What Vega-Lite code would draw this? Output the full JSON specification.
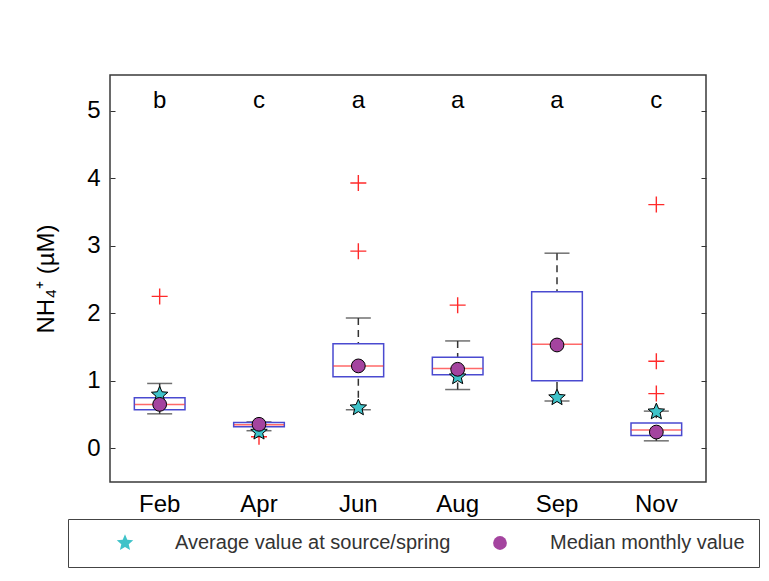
{
  "$schema": "https://vega.github.io/schema/vega-lite/v6.json",
  "width": 596,
  "height": 407,
  "autosize": "none",
  "padding": {"left": 110, "top": 75, "right": 63, "bottom": 99},
  "background": "white",
  "config": {
    "font": "Liberation Sans",
    "view": {"stroke": "#3a3a3a", "strokeWidth": 1.5},
    "axis": {"grid": false, "labelColor": "black", "titleColor": "black", "titleFontWeight": "normal"}
  },
  "datasets": {
    "boxes": [
      {"month": "Feb", "lo": 0.51, "q1": 0.57, "med": 0.65, "q3": 0.75, "hi": 0.96, "letter": "b"},
      {"month": "Apr", "lo": 0.26, "q1": 0.32, "med": 0.35, "q3": 0.38, "hi": 0.39, "letter": "c"},
      {"month": "Jun", "lo": 0.57, "q1": 1.06, "med": 1.22, "q3": 1.55, "hi": 1.93, "letter": "a"},
      {"month": "Aug", "lo": 0.87, "q1": 1.09, "med": 1.18, "q3": 1.35, "hi": 1.59, "letter": "a"},
      {"month": "Sep", "lo": 0.70, "q1": 1.00, "med": 1.54, "q3": 2.32, "hi": 2.89, "letter": "a"},
      {"month": "Nov", "lo": 0.11, "q1": 0.19, "med": 0.27, "q3": 0.375, "hi": 0.55, "letter": "c"}
    ],
    "outliers": [
      {"month": "Feb", "value": 2.25},
      {"month": "Apr", "value": 0.17},
      {"month": "Jun", "value": 3.93},
      {"month": "Jun", "value": 2.92},
      {"month": "Aug", "value": 2.12},
      {"month": "Nov", "value": 3.61},
      {"month": "Nov", "value": 1.29},
      {"month": "Nov", "value": 0.81}
    ],
    "points": [
      {"month": "Feb", "series": "Average value at source/spring", "value": 0.79},
      {"month": "Apr", "series": "Average value at source/spring", "value": 0.24},
      {"month": "Jun", "series": "Average value at source/spring", "value": 0.60},
      {"month": "Aug", "series": "Average value at source/spring", "value": 1.06},
      {"month": "Sep", "series": "Average value at source/spring", "value": 0.75},
      {"month": "Nov", "series": "Average value at source/spring", "value": 0.54},
      {"month": "Feb", "series": "Median monthly value", "value": 0.65},
      {"month": "Apr", "series": "Median monthly value", "value": 0.355},
      {"month": "Jun", "series": "Median monthly value", "value": 1.22},
      {"month": "Aug", "series": "Median monthly value", "value": 1.17},
      {"month": "Sep", "series": "Median monthly value", "value": 1.53},
      {"month": "Nov", "series": "Median monthly value", "value": 0.24}
    ]
  },
  "resolve": {"axis": {"y": "independent"}},
  "layer": [
    {
      "data": {"name": "boxes"},
      "mark": {"type": "rule", "color": "#333333", "strokeWidth": 1.5, "strokeDash": [7, 5]},
      "encoding": {
        "x": {"field": "month", "type": "nominal", "sort": ["Feb", "Apr", "Jun", "Aug", "Sep", "Nov"],
              "scale": {"domain": ["Feb", "Apr", "Jun", "Aug", "Sep", "Nov"], "paddingInner": 0, "paddingOuter": 0},
              "axis": {"title": null, "labelAngle": 0, "labelFontSize": 24, "ticks": false, "domain": false, "labelPadding": 10}},
        "y": {"field": "hi", "type": "quantitative",
              "scale": {"domain": [-0.5, 5.53], "nice": false, "zero": false},
              "axis": {"orient": "left", "values": [0, 1, 2, 3, 4, 5], "labelFontSize": 24, "tickSize": -5, "tickColor": "#333", "domain": false, "labelPadding": 15,
                       "title": "NH₄⁺ (µM)", "titleFontSize": 24, "titlePadding": 28}},
        "y2": {"field": "q3"}
      }
    },
    {
      "data": {"name": "boxes"},
      "mark": {"type": "rule", "color": "#333333", "strokeWidth": 1.5, "strokeDash": [7, 5]},
      "encoding": {
        "x": {"field": "month", "type": "nominal", "sort": ["Feb", "Apr", "Jun", "Aug", "Sep", "Nov"]},
        "y": {"field": "lo", "type": "quantitative",
              "axis": {"orient": "right", "values": [0, 1, 2, 3, 4, 5], "labels": false, "tickSize": -5, "tickColor": "#333", "domain": false, "title": null}},
        "y2": {"field": "q1"}
      }
    },
    {
      "data": {"name": "boxes"},
      "mark": {"type": "tick", "color": "#333333", "size": 25, "thickness": 1.5},
      "encoding": {
        "x": {"field": "month", "type": "nominal", "sort": ["Feb", "Apr", "Jun", "Aug", "Sep", "Nov"]},
        "y": {"field": "hi", "type": "quantitative", "axis": null}
      }
    },
    {
      "data": {"name": "boxes"},
      "mark": {"type": "tick", "color": "#333333", "size": 25, "thickness": 1.5},
      "encoding": {
        "x": {"field": "month", "type": "nominal", "sort": ["Feb", "Apr", "Jun", "Aug", "Sep", "Nov"]},
        "y": {"field": "lo", "type": "quantitative", "axis": null}
      }
    },
    {
      "data": {"name": "boxes"},
      "mark": {"type": "bar", "fill": "white", "stroke": "#4a4ad0", "strokeWidth": 1.5, "width": {"band": 0.51}},
      "encoding": {
        "x": {"field": "month", "type": "nominal", "sort": ["Feb", "Apr", "Jun", "Aug", "Sep", "Nov"]},
        "y": {"field": "q1", "type": "quantitative", "axis": null},
        "y2": {"field": "q3"}
      }
    },
    {
      "data": {"name": "boxes"},
      "mark": {"type": "tick", "color": "#ff2a2a", "size": 50, "thickness": 1.5},
      "encoding": {
        "x": {"field": "month", "type": "nominal", "sort": ["Feb", "Apr", "Jun", "Aug", "Sep", "Nov"]},
        "y": {"field": "med", "type": "quantitative", "axis": null}
      }
    },
    {
      "data": {"name": "outliers"},
      "mark": {"type": "point", "shape": "M-1,0L1,0M0,-1L0,1", "filled": false, "stroke": "#ff2a2a", "strokeWidth": 1.4, "size": 256, "opacity": 1},
      "encoding": {
        "x": {"field": "month", "type": "nominal", "sort": ["Feb", "Apr", "Jun", "Aug", "Sep", "Nov"]},
        "y": {"field": "value", "type": "quantitative", "axis": null}
      }
    },
    {
      "data": {"name": "points"},
      "mark": {"type": "point", "filled": true, "stroke": "black", "strokeWidth": 1, "opacity": 1},
      "encoding": {
        "x": {"field": "month", "type": "nominal", "sort": ["Feb", "Apr", "Jun", "Aug", "Sep", "Nov"]},
        "y": {"field": "value", "type": "quantitative", "axis": null},
        "shape": {"field": "series", "type": "nominal",
                  "scale": {"domain": ["Average value at source/spring", "Median monthly value"],
                            "range": ["M0,-1L0.265,-0.364L0.951,-0.309L0.428,0.139L0.588,0.809L0,0.45L-0.588,0.809L-0.428,0.139L-0.951,-0.309L-0.265,-0.364Z", "circle"]},
                  "legend": {"title": null, "orient": "none", "legendX": -42, "legendY": 444, "direction": "horizontal", "columns": 2,
                             "strokeColor": "#444", "padding": 14, "symbolOffset": 33, "labelOffset": 40, "columnPadding": 6,
                             "labelFontSize": 20, "labelColor": "#333", "labelLimit": 400, "symbolStrokeColor": "black", "symbolStrokeWidth": 1}},
        "fill": {"field": "series", "type": "nominal",
                 "scale": {"domain": ["Average value at source/spring", "Median monthly value"], "range": ["#3fc3c9", "#a4449f"]},
                 "legend": {"title": null, "orient": "none", "legendX": -42, "legendY": 444, "direction": "horizontal", "columns": 2,
                             "strokeColor": "#444", "padding": 14, "symbolOffset": 33, "labelOffset": 40, "columnPadding": 6,
                             "labelFontSize": 20, "labelColor": "#333", "labelLimit": 400, "symbolStrokeColor": "black", "symbolStrokeWidth": 1}},
        "size": {"field": "series", "type": "nominal",
                 "scale": {"domain": ["Average value at source/spring", "Median monthly value"], "range": [300, 190]},
                 "legend": {"title": null, "orient": "none", "legendX": -42, "legendY": 444, "direction": "horizontal", "columns": 2,
                             "strokeColor": "#444", "padding": 14, "symbolOffset": 33, "labelOffset": 40, "columnPadding": 6,
                             "labelFontSize": 20, "labelColor": "#333", "labelLimit": 400, "symbolStrokeColor": "black", "symbolStrokeWidth": 1}}
      }
    },
    {
      "data": {"name": "boxes"},
      "mark": {"type": "text", "fontSize": 24, "color": "black", "baseline": "middle"},
      "encoding": {
        "x": {"field": "month", "type": "nominal", "sort": ["Feb", "Apr", "Jun", "Aug", "Sep", "Nov"]},
        "y": {"datum": 5.14, "type": "quantitative", "axis": null},
        "text": {"field": "letter"}
      }
    }
  ]
}
